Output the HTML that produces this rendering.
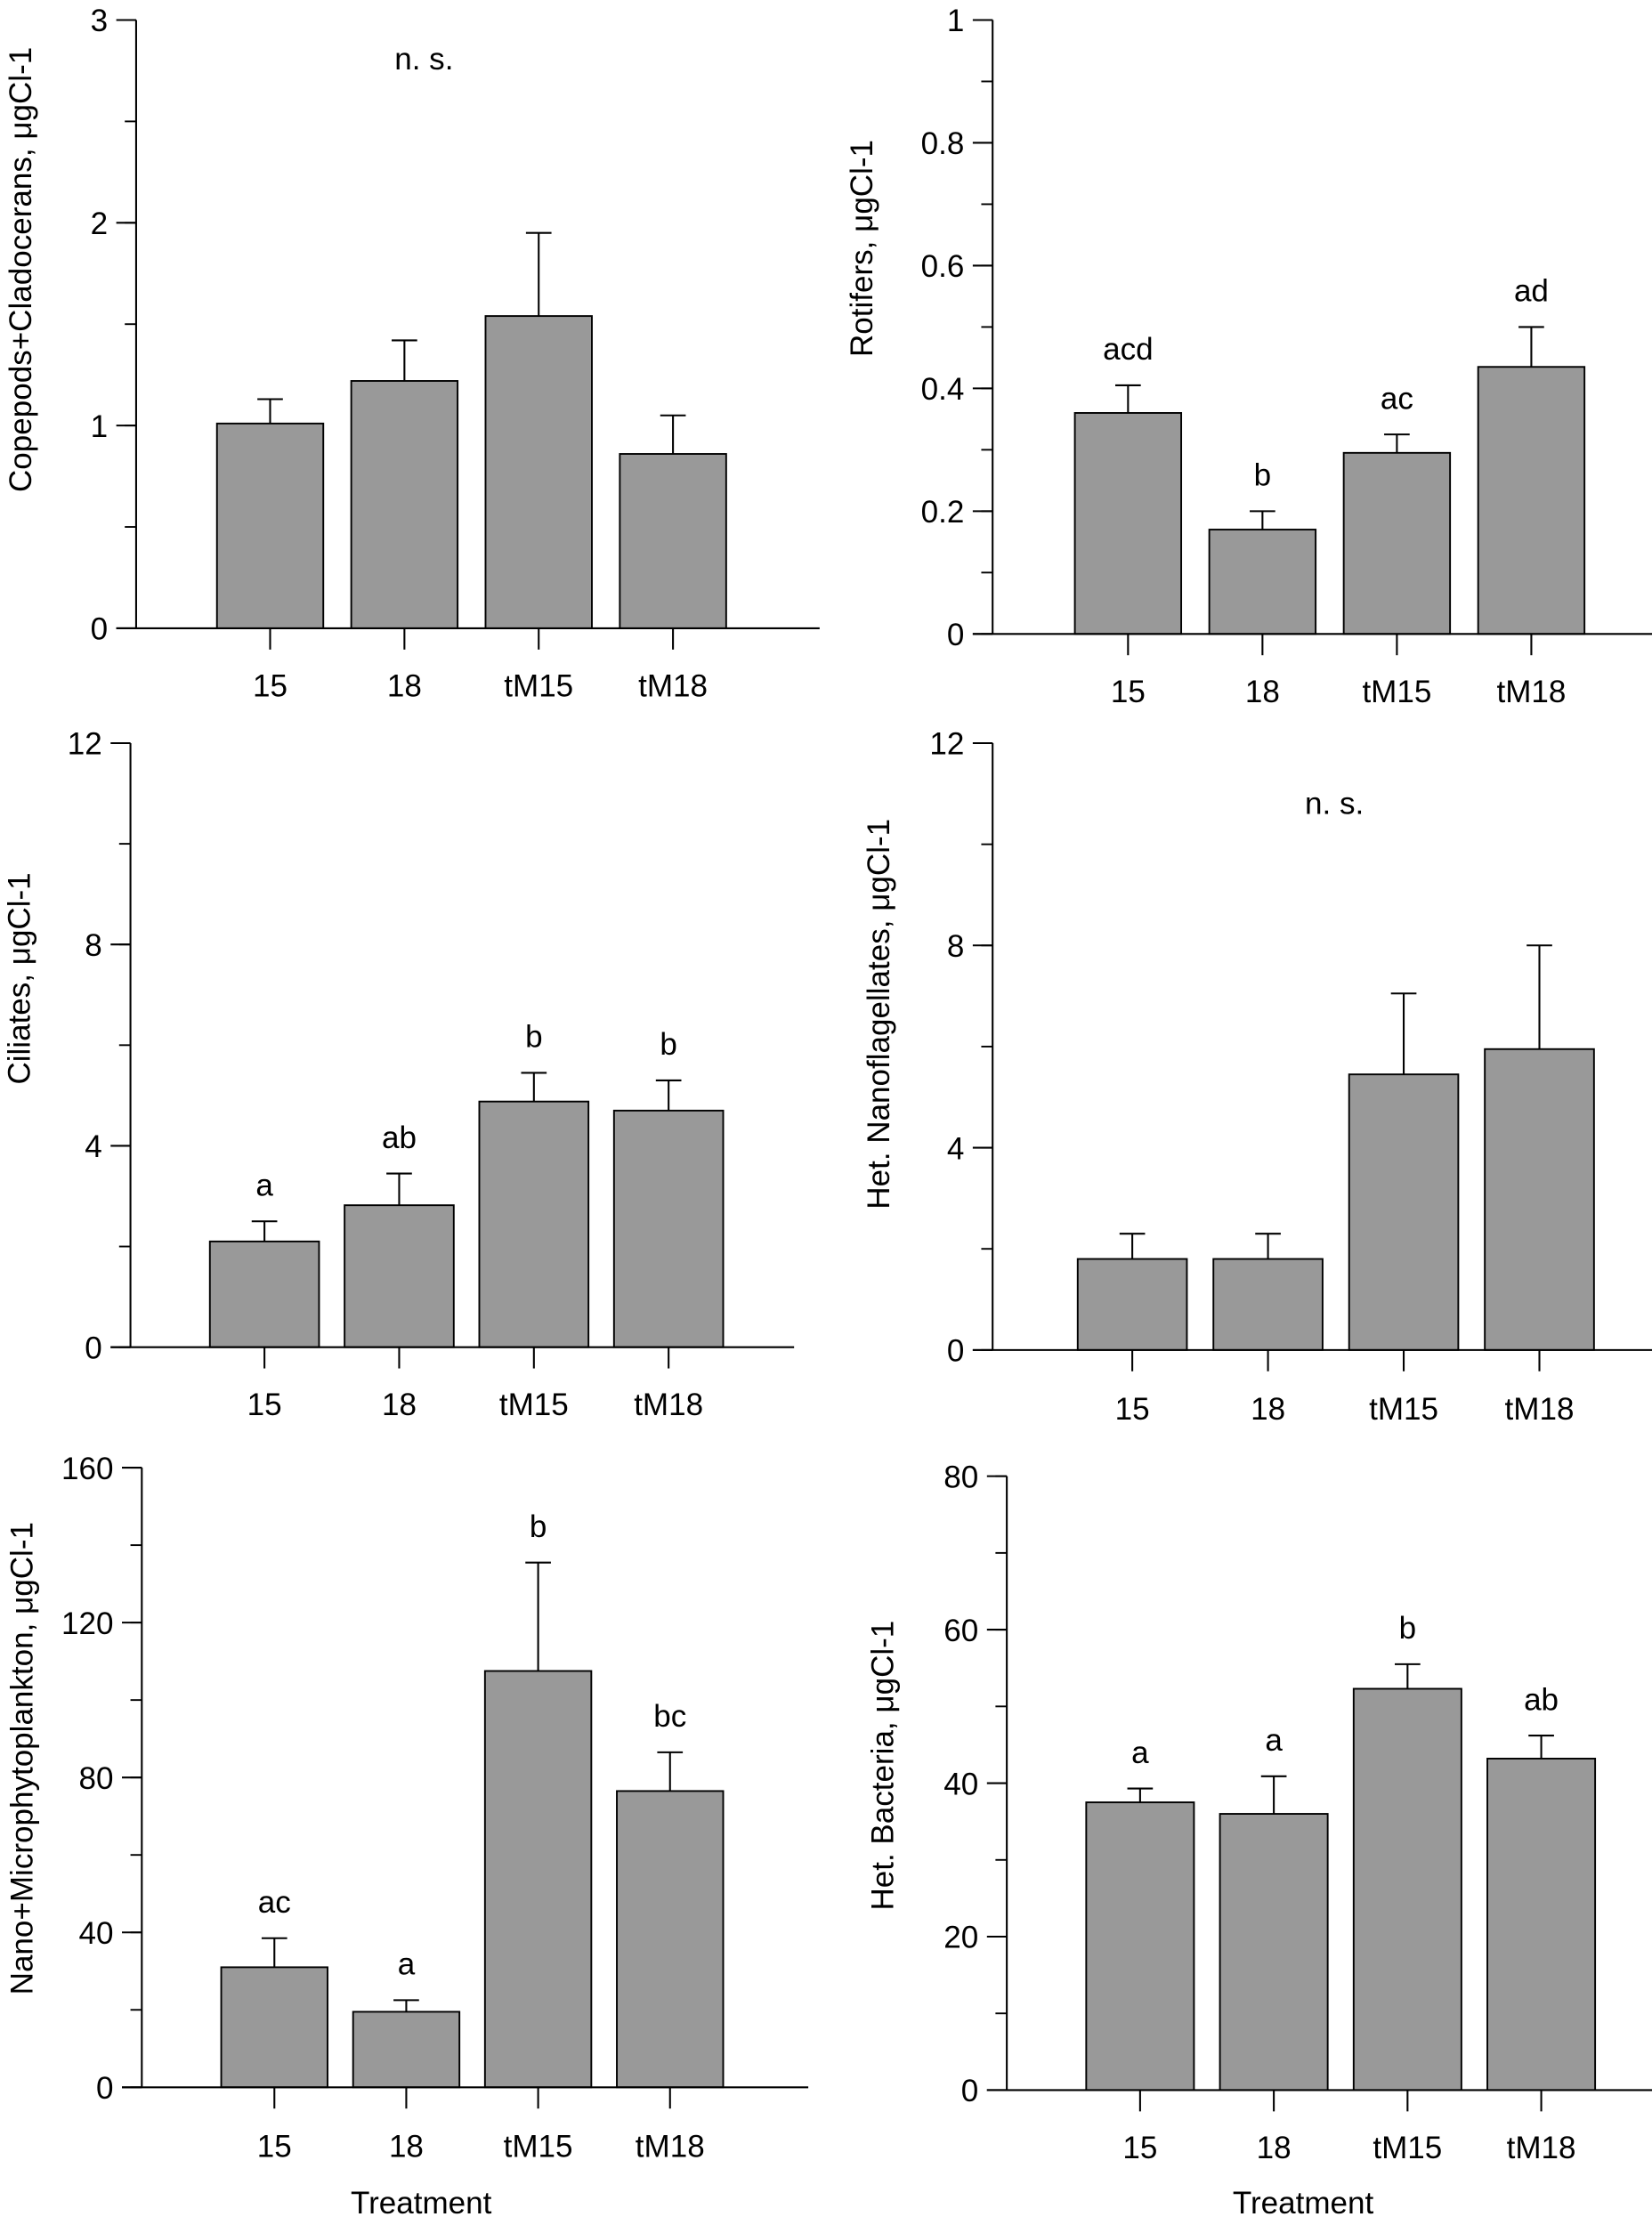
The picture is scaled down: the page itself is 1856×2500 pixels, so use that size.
<!DOCTYPE html>
<html><head><meta charset="utf-8"><style>
html,body{margin:0;padding:0;background:#fff;}
svg{display:block;font-family:"Liberation Sans",Arial,sans-serif;}
</style></head><body>
<svg id="fig" width="1856" height="2500" viewBox="0 0 1165 1569" xmlns="http://www.w3.org/2000/svg"></svg>
<script>
const categories = ["15","18","tM15","tM18"];
const copepodsValues = [1.01,1.22,1.54,0.86];
const copepodsErrors = [0.12,0.20,0.41,0.19];
const copepodsLetters = ["","","",""];
const rotifersValues = [0.36,0.17,0.295,0.435];
const rotifersErrors = [0.045,0.03,0.03,0.065];
const rotifersLetters = ["acd","b","ac","ad"];
const ciliatesValues = [2.1,2.82,4.88,4.7];
const ciliatesErrors = [0.4,0.63,0.57,0.6];
const ciliatesLetters = ["a","ab","b","b"];
const hnfValues = [1.8,1.8,5.45,5.95];
const hnfErrors = [0.5,0.5,1.6,2.05];
const hnfLetters = ["","","",""];
const phytoValues = [31,19.5,107.5,76.5];
const phytoErrors = [7.5,3,28,10];
const phytoLetters = ["ac","a","b","bc"];
const bactValues = [37.5,36,52.3,43.2];
const bactErrors = [1.8,4.9,3.2,3.0];
const bactLetters = ["a","a","b","ab"];
const copepodsTicks = [0,1,2,3];
const rotifersTicks = [0,0.2,0.4,0.6,0.8,1];
const ciliatesTicks = [0,4,8,12];
const hnfTicks = [0,4,8,12];
const phytoTicks = [0,40,80,120,160];
const bactTicks = [0,20,40,60,80];

const NS="http://www.w3.org/2000/svg";
const svg=document.getElementById('fig');
const FS=22;
function el(tag,attrs,parent){const e=document.createElementNS(NS,tag);for(const k in attrs)e.setAttribute(k,attrs[k]);(parent||svg).appendChild(e);return e;}

const panels=[
 {name:"copepods",ax:96,yTop:14,y0:443,xEnd:578,max:3,minor:0.5,ticks:copepodsTicks,vals:copepodsValues,errs:copepodsErrors,letters:copepodsLetters,bx:153,bstep:94.7,bw:75,catY:491,ylab:"Copepods+Cladocerans, μgCl-1",ylx:22,yly:190,ns:[299,49]},
 {name:"rotifers",ax:700,yTop:14,y0:447,xEnd:1165,max:1,minor:0.1,ticks:rotifersTicks,vals:rotifersValues,errs:rotifersErrors,letters:rotifersLetters,bx:758,bstep:94.8,bw:75,catY:495,ylab:"Rotifers, μgCl-1",ylx:615,yly:175},
 {name:"ciliates",ax:92,yTop:524,y0:950,xEnd:560,max:12,minor:2,ticks:ciliatesTicks,vals:ciliatesValues,errs:ciliatesErrors,letters:ciliatesLetters,bx:148,bstep:95,bw:77,catY:998,ylab:"Ciliates, μgCl-1",ylx:21,yly:690},
 {name:"nanoflagellates",ax:700,yTop:524,y0:952,xEnd:1165,max:12,minor:2,ticks:hnfTicks,vals:hnfValues,errs:hnfErrors,letters:hnfLetters,bx:760,bstep:95.7,bw:77,catY:1001,ylab:"Het. Nanoflagellates, μgCl-1",ylx:627,yly:715,ns:[941,574]},
 {name:"phytoplankton",ax:100,yTop:1035,y0:1472,xEnd:570,max:160,minor:20,ticks:phytoTicks,vals:phytoValues,errs:phytoErrors,letters:phytoLetters,bx:156,bstep:93,bw:75,catY:1521,ylab:"Nano+Microphytoplankton, μgCl-1",ylx:23,yly:1240,xlab:[297,1561]},
 {name:"bacteria",ax:710,yTop:1041,y0:1474,xEnd:1165,max:80,minor:10,ticks:bactTicks,vals:bactValues,errs:bactErrors,letters:bactLetters,bx:766,bstep:94.3,bw:76,catY:1522,ylab:"Het. Bacteria, μgCl-1",ylx:630,yly:1245,xlab:[919,1561]}
];

panels.forEach(p=>{
 const g=el('g',{});
 
 
 const y=v=>p.y0-(v/p.max)*(p.y0-p.yTop);
 p.vals.forEach((v,i)=>{
  const x=p.bx+i*p.bstep, cx=x+p.bw/2;
  const eb=el('line',{x1:cx,x2:cx,y1:y(v),y2:y(v+p.errs[i]),stroke:'#000','stroke-width':1.3},g);
  
  
  el('line',{x1:cx-9,x2:cx+9,y1:y(v+p.errs[i]),y2:y(v+p.errs[i]),stroke:'#000','stroke-width':1.3},g);
  const r=el('rect',{x:x,y:y(v),width:p.bw,height:p.y0-y(v),fill:'#999999',stroke:'#000','stroke-width':1.2},g);
  
  
  el('line',{x1:cx,x2:cx,y1:p.y0,y2:p.y0+15,stroke:'#000','stroke-width':1.3},g);
  const t=el('text',{x:cx,y:p.catY,'font-size':FS,'text-anchor':'middle'},g);
  t.textContent=categories[i];
  
  
  if(p.letters[i]){
   const lt=el('text',{x:cx,y:y(v+p.errs[i])-18,'font-size':FS,'text-anchor':'middle'},g);
   lt.textContent=p.letters[i];
   
   
  }
 });
 const ya=el('line',{x1:p.ax,x2:p.ax,y1:p.yTop,y2:p.y0,stroke:'#000','stroke-width':1.3},g);
 
 
 const xa=el('line',{x1:p.ax-14,x2:p.xEnd,y1:p.y0,y2:p.y0,stroke:'#000','stroke-width':1.3},g);
 
 
 for(let v=0;v<=p.max+1e-9;v+=p.minor){
  el('line',{x1:p.ax-8,x2:p.ax,y1:y(v),y2:y(v),stroke:'#000','stroke-width':1.2},g);
 }
 p.ticks.forEach(v=>{
  el('line',{x1:p.ax-14,x2:p.ax,y1:y(v),y2:y(v),stroke:'#000','stroke-width':1.3},g);
  const t=el('text',{x:p.ax-20,y:y(v)+8,'font-size':FS,'text-anchor':'end'},g);
  t.textContent=String(v);
  
  
 });
 const yl=el('text',{x:0,y:0,'font-size':FS,'text-anchor':'middle',transform:`translate(${p.ylx},${p.yly}) rotate(-90)`},g);
 yl.textContent=p.ylab;
 
 
 if(p.ns){
  const n=el('text',{x:p.ns[0],y:p.ns[1],'font-size':FS,'text-anchor':'middle'},g);
  n.textContent='n. s.';
  
  
 }
 if(p.xlab){
  const n=el('text',{x:p.xlab[0],y:p.xlab[1],'font-size':FS,'text-anchor':'middle'},g);
  n.textContent='Treatment';
  
  
 }
});
</script>
</body></html>
